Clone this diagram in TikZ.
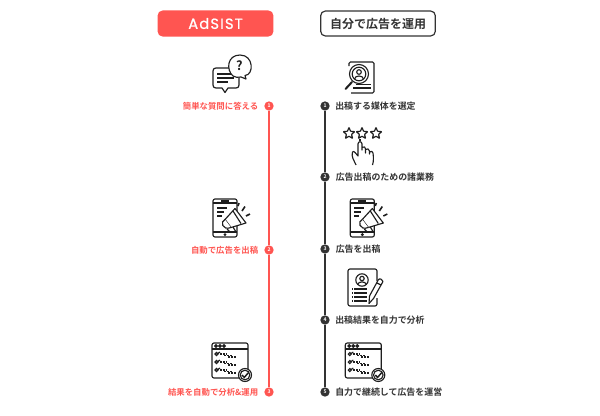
\documentclass[tikz,border=0pt]{standalone}
\usepackage{fontspec}
\usetikzlibrary{shapes.geometric}
\setmainfont{Noto Sans CJK JP}[BoldFont={Noto Sans CJK JP Bold}]
\newfontfamily\logofont[LetterSpace=8,FakeBold=0.8]{Poppins}
\definecolor{adred}{HTML}{FF5551}
\definecolor{addark}{HTML}{333333}
\definecolor{icondark}{HTML}{1E1E1E}
\newcommand{\iconphone}[1]{%
 \begin{scope}[xshift=#1*0.75pt,icon]
  \draw[rounded corners=1.5] (213,199) rectangle (237,237);
  \draw (213,203) -- (237,203) (213,232) -- (237,232) (221,201) -- (229,201);
  \fill[icondark] (225,234.6) circle (.8);
  \draw (217,208) -- (227,208) (217,212) -- (224,212) (217,216) -- (222,216);
  \draw[fill=white,line join=round] (235,208.5) -- (246,223) -- (231,227.5) -- (225,219.5) -- cycle;
  \draw (233,211) -- (241,223.5);
  \draw[fill=white] (225,219.5) .. controls (220,221) and (222,231) .. (231,227.5);
  \draw (227,229) -- (230,232) (233,227) -- (236,232);
  \draw[line width=1.2pt] (242,211) -- (245,206.5) (246,216) -- (250,214) (238,206) -- (239,203);
 \end{scope}}
\newcommand{\iconbrowser}[1]{%
 \begin{scope}[xshift=#1*0.75pt,icon]
  \draw[rounded corners=1.5] (212,343) rectangle (248,378);
  \draw (212,349) -- (248,349);
  \foreach \cx in {216,220,224} \fill[icondark] (\cx,346) circle (1.3);
  \foreach \cy in {354,362,370}{
   \draw (216.5,\cy) circle (1.5) (217,\cy) -- (220,\cy-2);
   \draw[dash pattern=on 1.5pt off .7pt,line width=.9pt] (220,\cy) -- (226,\cy) (224,\cy+1.5) -- (232,\cy+1.5) (228,\cy+3) -- (236,\cy+3);
  }
  \draw[fill=white] (245,375) circle (6.5);
  \draw (245,375) circle (4.8);
  \draw[line width=1.1pt] (242,375) -- (244.3,377.4) -- (248.5,372.5);
 \end{scope}}
\tikzset{
 icon/.style={line width=.85pt,every path/.style={draw=icondark,fill=none}},
 headbox/.style={rounded corners=3.5pt,minimum width=86pt,minimum height=18.7pt,inner sep=0pt,line width=.9pt},
 stepdot/.style={circle,inner sep=0pt,minimum size=7pt,text=white,font=\bfseries\fontsize{3.8}{4}\selectfont},
 lefttext/.style={anchor=east,inner sep=0pt,text=adred,font=\bfseries\fontsize{6.3}{7}\selectfont},
 righttext/.style={anchor=west,inner sep=0pt,text=addark,font=\bfseries\fontsize{6.7}{7}\selectfont},
 staricon/.style={star,star points=5,star point ratio=2.2,draw=icondark,line width=.9pt,minimum size=9pt,inner sep=0pt,rounded corners=.4pt}
}
\begin{document}
\begin{tikzpicture}[x=.75pt,y=-.75pt]
\useasboundingbox (0,0) rectangle (600,415);
\fill[white] (0,0) rectangle (600,415);
% headers
\node[headbox,fill=adred,draw=adred] (hl) at (215.5,23.5) {\logofont\fontsize{11}{12}\selectfont\color{white}AdSIST};
\node[headbox,draw=addark,fill=white,text=addark,font=\bfseries\fontsize{9}{10}\selectfont] (hr) at (378,23.5) {自分で広告を運用};
% step dots
\node[stepdot,fill=adred] (r1) at (269,106) {1};
\node[stepdot,fill=adred] (r2) at (269,250) {2};
\node[stepdot,fill=adred] (r3) at (269,392) {3};
\node[stepdot,fill=addark] (b1) at (325,106) {1};
\node[stepdot,fill=addark] (b2) at (325,177) {2};
\node[stepdot,fill=addark] (b3) at (325,249) {3};
\node[stepdot,fill=addark] (b4) at (325,320) {4};
\node[stepdot,fill=addark] (b5) at (325,392) {5};
% timelines
\draw[adred,line width=1.5pt] (r1) -- (r2) (r2) -- (r3);
\draw[addark,line width=1.5pt] (b1) -- (b2) (b2) -- (b3) (b3) -- (b4) (b4) -- (b5);
% labels
\node[lefttext] (l1) at (258.5,106) {簡単な質問に答える};
\node[lefttext] (l2) at (258.5,250) {自動で広告を出稿};
\node[lefttext] (l3) at (258.5,392) {結果を自動で分析\&運用};
\node[righttext] (t1) at (335,106) {出稿する媒体を選定};
\node[righttext] (t2) at (335.5,177) {広告出稿のための諸業務};
\node[righttext] (t3) at (335.5,249) {広告を出稿};
\node[righttext] (t4) at (335,320) {出稿結果を自力で分析};
\node[righttext] (t5) at (335,392) {自力で継続して広告を運営};
% chat icon
\begin{scope}[icon]
 \draw[line join=round] (216,68) -- (236,68) .. controls (238.5,68) and (239,69) .. (239,71) -- (239,85) .. controls (239,87) and (238,88) .. (236,88) -- (228,88) -- (225,92.5) -- (222,88) -- (216,88) .. controls (214,88) and (213,87) .. (213,85) -- (213,71) .. controls (213,69) and (214,68) .. (216,68) -- cycle;
 \draw (217,74) -- (234,74) (217,78) -- (234,78) (217,82) -- (228,82);
 \draw[fill=white,line join=round] (233,76) .. controls (226,70) and (227,55) .. (240,55) .. controls (254,55) and (254,75) .. (245,75.5) -- (246,79) -- (241,77) .. controls (238,77.5) and (235,77.5) .. (233,76) -- cycle;
\end{scope}
\node[inner sep=0pt,text=icondark,font=\bfseries\fontsize{9.5}{10}\selectfont] (qm) at (239.5,65.5) {?};
% search document icon
\begin{scope}[icon]
 \draw[rounded corners=1] (349,66) -- (349,62) -- (374,62) -- (374,93) -- (351,93);
 \draw[fill=white] (359,74) circle (9.5);
 \draw (359,74) circle (6.8);
 \draw (359,72) circle (2.3);
 \draw (354.5,79) .. controls (355,75) and (363,75) .. (363.5,79);
 \draw[line width=1.5pt,line cap=round] (352,82) -- (345.5,89);
 \draw (356,84.5) -- (371,84.5) (353,88) -- (371,88);
\end{scope}
% stars and hand
\node[staricon] (s1) at (349,133.5) {};
\node[staricon] (s2) at (362,133.5) {};
\node[staricon] (s3) at (376,133.5) {};
\begin{scope}[icon]
 \draw[line join=round] (356,165) .. controls (354,160) and (351,157) .. (352.5,152) .. controls (354,150) and (356,154) .. (358,156) -- (358,144) .. controls (358,141) and (362,141) .. (362,144) -- (362,150) -- (362,147.5) .. controls (364,146) and (365.5,147) .. (365.5,149) -- (365.5,153) -- (365.5,149.5) .. controls (367,148) and (369.5,149) .. (369.5,151) -- (369.5,154) -- (369.5,152) .. controls (371,150.5) and (373,151.5) .. (373,153) .. controls (373.5,157) and (373.8,161) .. (372.5,165);
 \draw[densely dotted] (360,137) -- (360,141);
\end{scope}
% phones
\iconphone{0}
\iconphone{137.3}
% profile document icon
\begin{scope}[icon]
 \draw[rounded corners=1.5] (377,281) -- (377,269) -- (348,269) -- (348,306) -- (377,306) -- (377,298);
 \draw (362,280) circle (6.2);
 \draw (362,278.5) circle (2.2);
 \draw (357.8,284.5) .. controls (358,281) and (366,281) .. (366.2,284.5);
 \foreach \ly in {289,293,297,301}{\draw (354,\ly) -- (367,\ly); \draw (352,\ly) -- (352.5,\ly);}
 \draw[fill=white,line join=round] (369,303.5) -- (369.5,296) -- (378.5,279.5) .. controls (379.5,278) and (383,279.5) .. (383,281.5) -- (373.5,298.5) -- cycle;
 \draw (377,283) -- (381,285);
\end{scope}
% browser icons
\iconbrowser{0}
\iconbrowser{133.3}
\end{tikzpicture}
\end{document}
